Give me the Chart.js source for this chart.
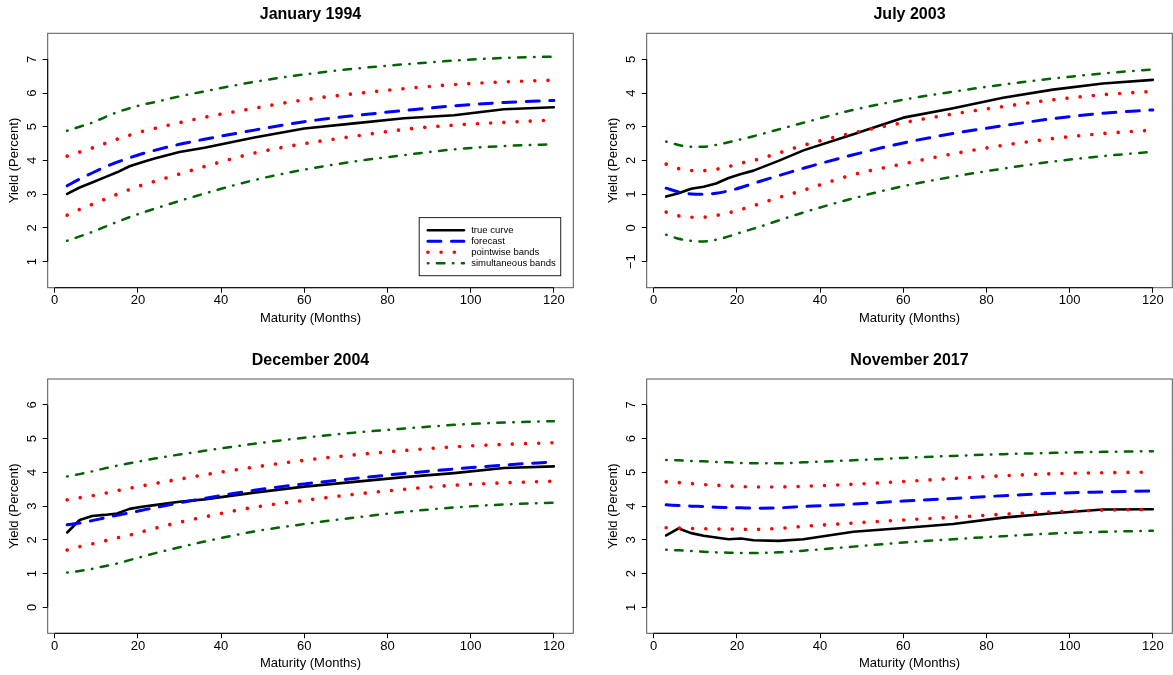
<!DOCTYPE html>
<html><head><meta charset="utf-8">
<script src="https://cdn.jsdelivr.net/npm/chart.js@4.4.1/dist/chart.umd.min.js"></script>
<style>
html,body{margin:0;padding:0;background:#fff;width:1173px;height:675px;overflow:hidden}
canvas{position:absolute}
</style></head><body>
<canvas id="c1" width="586" height="337" style="left:0;top:0"></canvas>
<canvas id="c2" width="587" height="337" style="left:586px;top:0"></canvas>
<canvas id="c3" width="586" height="338" style="left:0;top:337px"></canvas>
<canvas id="c4" width="587" height="338" style="left:586px;top:337px"></canvas>
<script>
// ---- data ----
const maturities = [3,6,9,12,15,18,21,24,30,36,48,60,72,84,96,108,120];
const xTickValues = [0,20,40,60,80,100,120];
const panelTitles = ['January 1994','July 2003','December 2004','November 2017'];
const seriesNames = ['true curve','forecast','pointwise bands','simultaneous bands'];
const xAxisTitle = 'Maturity (Months)';
const yAxisTitle = 'Yield (Percent)';

const jan1994True     = [3.01,3.2,3.35,3.5,3.65,3.83,3.95,4.06,4.25,4.38,4.68,4.95,5.1,5.25,5.34,5.52,5.58];
const jan1994Forecast = [3.25,3.45,3.63,3.8,3.95,4.08,4.2,4.3,4.48,4.63,4.9,5.15,5.33,5.48,5.62,5.72,5.78];
const jan1994PwUpper  = [4.13,4.25,4.37,4.5,4.63,4.75,4.86,4.95,5.12,5.28,5.55,5.8,5.98,6.13,6.25,6.33,6.38];
const jan1994PwLower  = [2.38,2.55,2.7,2.85,3.0,3.14,3.27,3.38,3.6,3.82,4.22,4.5,4.72,4.92,5.05,5.13,5.2];
const jan1994SimUpper = [4.88,5.0,5.12,5.28,5.43,5.55,5.65,5.73,5.9,6.05,6.33,6.55,6.72,6.85,6.96,7.04,7.08];
const jan1994SimLower = [1.62,1.75,1.88,2.03,2.18,2.32,2.45,2.57,2.8,3.02,3.42,3.73,3.97,4.16,4.33,4.43,4.48];
const jan1994YTicks   = [1,2,3,4,5,6,7];

const jul2003True     = [0.93,1.03,1.16,1.22,1.32,1.48,1.6,1.7,1.99,2.3,2.78,3.27,3.55,3.86,4.1,4.28,4.39];
const jul2003Forecast = [1.18,1.07,1.01,1.0,1.03,1.1,1.2,1.32,1.55,1.77,2.17,2.52,2.8,3.03,3.24,3.4,3.5];
const jul2003PwUpper  = [1.89,1.76,1.7,1.7,1.74,1.82,1.92,2.0,2.22,2.45,2.82,3.12,3.38,3.6,3.8,3.95,4.05];
const jul2003PwLower  = [0.47,0.36,0.32,0.32,0.37,0.45,0.55,0.66,0.9,1.12,1.58,1.9,2.2,2.45,2.65,2.8,2.9];
const jul2003SimUpper = [2.56,2.46,2.41,2.41,2.46,2.54,2.63,2.72,2.92,3.12,3.5,3.8,4.04,4.25,4.43,4.58,4.7];
const jul2003SimLower = [-0.2,-0.32,-0.38,-0.4,-0.35,-0.25,-0.13,-0.02,0.22,0.46,0.88,1.24,1.52,1.76,1.97,2.13,2.26];
const jul2003YTicks   = [-1,0,1,2,3,4,5];

const dec2004True     = [2.22,2.59,2.71,2.74,2.78,2.92,2.98,3.03,3.13,3.2,3.4,3.58,3.72,3.86,3.98,4.13,4.18];
const dec2004Forecast = [2.45,2.5,2.57,2.65,2.73,2.8,2.88,2.95,3.1,3.23,3.47,3.66,3.82,3.97,4.1,4.22,4.31];
const dec2004PwUpper  = [3.19,3.25,3.31,3.38,3.46,3.53,3.6,3.67,3.8,3.93,4.16,4.36,4.52,4.65,4.76,4.83,4.88];
const dec2004PwLower  = [1.7,1.8,1.88,1.97,2.06,2.14,2.24,2.34,2.52,2.68,2.97,3.17,3.35,3.5,3.62,3.69,3.74];
const dec2004SimUpper = [3.88,3.95,4.03,4.12,4.2,4.27,4.34,4.41,4.53,4.64,4.85,5.03,5.18,5.3,5.41,5.48,5.52];
const dec2004SimLower = [1.03,1.08,1.14,1.22,1.3,1.4,1.5,1.6,1.78,1.95,2.25,2.47,2.66,2.83,2.96,3.05,3.1];
const dec2004YTicks   = [0,1,2,3,4,5,6];

const nov2017True     = [3.13,3.34,3.2,3.12,3.07,3.02,3.04,2.99,2.97,3.02,3.24,3.35,3.47,3.66,3.79,3.9,3.91];
const nov2017Forecast = [4.04,4.02,4.0,3.99,3.97,3.96,3.95,3.94,3.95,3.99,4.06,4.15,4.23,4.31,4.38,4.42,4.45];
const nov2017PwUpper  = [4.72,4.7,4.67,4.64,4.62,4.6,4.58,4.57,4.57,4.59,4.65,4.73,4.82,4.9,4.96,4.99,5.01];
const nov2017PwLower  = [3.36,3.35,3.34,3.33,3.32,3.32,3.31,3.31,3.34,3.4,3.5,3.59,3.67,3.76,3.83,3.88,3.9];
const nov2017SimUpper = [5.37,5.36,5.34,5.33,5.31,5.3,5.28,5.27,5.27,5.3,5.36,5.43,5.49,5.54,5.58,5.61,5.63];
const nov2017SimLower = [2.71,2.69,2.67,2.65,2.63,2.62,2.61,2.61,2.63,2.68,2.8,2.92,3.02,3.11,3.19,3.24,3.27];
const nov2017YTicks   = [1,2,3,4,5,6,7];

// ---- styling / layout ----
const FONT = "'Liberation Sans', Arial, Helvetica, sans-serif";
const styles = {
  trueCurve: {borderColor:'#000000', borderWidth:2.6, borderDash:[], borderCapStyle:'round', tension:0},
  forecast:  {borderColor:'#0000FF', borderWidth:3, borderDash:[13,10.5], borderCapStyle:'round', cubicInterpolationMode:'monotone'},
  pointwise: {borderColor:'#FF0000', borderWidth:3.6, borderDash:[0.01,13.2], borderCapStyle:'round', cubicInterpolationMode:'monotone'},
  simult:    {borderColor:'#006400', borderWidth:2.5, borderDash:[0.5,8.5,7.5,8.5], borderCapStyle:'round', cubicInterpolationMode:'monotone'}
};

function pts(arr){ return maturities.map((m,i)=>({x:m,y:arr[i]})); }
function ds(label, arr, st, order){
  return Object.assign({label, data:pts(arr), pointRadius:0, fill:false, order, borderJoinStyle:'round'}, st);
}

const boxPlugin = {
  id:'rbox',
  afterDraw(chart, args, opts){
    const {ctx, chartArea:a, scales:{x,y}} = chart;
    ctx.save();
    // plot box
    ctx.strokeStyle = '#555'; ctx.lineWidth = 1;
    ctx.strokeRect(a.left, a.top, a.right-a.left, a.bottom-a.top);
    // axis lines from first to last tick
    ctx.strokeStyle = '#000';
    ctx.beginPath();
    const xt = x.ticks, yt = y.ticks;
    ctx.moveTo(x.getPixelForValue(xt[0].value), a.bottom);
    ctx.lineTo(x.getPixelForValue(xt[xt.length-1].value), a.bottom);
    ctx.moveTo(a.left, y.getPixelForValue(yt[0].value));
    ctx.lineTo(a.left, y.getPixelForValue(yt[yt.length-1].value));
    ctx.stroke();
    // rotated y tick labels (R style, reading upwards)
    ctx.fillStyle = '#000';
    ctx.font = '13px ' + FONT;
    ctx.textAlign = 'center'; ctx.textBaseline = 'middle';
    yt.forEach(t=>{
      const py = y.getPixelForValue(t.value);
      ctx.save();
      ctx.translate(a.left - 15.4, py);
      ctx.rotate(-Math.PI/2);
      ctx.fillText(t.value < 0 ? '\u2212' + Math.abs(t.value) : String(t.value), 0, 0);
      ctx.restore();
    });
    // legend
    if (opts && opts.legend) {
      const fs = 9.5;
      ctx.font = fs + 'px ' + FONT;
      const tw = Math.max(...seriesNames.map(s=>ctx.measureText(s).width));
      const w = 8.7 + 36 + 7.3 + tw + 5;
      const h = 58.1;
      const right = a.right - 12.6, bottom = a.bottom - 12;
      const left = right - w, top = bottom - h;
      ctx.fillStyle = '#fff';
      ctx.fillRect(left, top, w, h);
      ctx.strokeStyle = '#222'; ctx.lineWidth = 1;
      ctx.strokeRect(left, top, w, h);
      const st = [styles.trueCurve, styles.forecast, styles.pointwise, styles.simult];
      seriesNames.forEach((name,i)=>{
        const cy = top + 12.7 + i*11;
        const s = st[i];
        ctx.save();
        ctx.strokeStyle = s.borderColor;
        ctx.lineWidth = s.borderWidth;
        ctx.lineCap = s.borderCapStyle || 'butt';
        ctx.setLineDash(s.borderDash);
        ctx.beginPath();
        ctx.moveTo(left + 8.7, cy); ctx.lineTo(left + 8.7 + 36, cy);
        ctx.stroke();
        ctx.restore();
        ctx.fillStyle = '#000';
        ctx.textAlign = 'left'; ctx.textBaseline = 'middle';
        ctx.fillText(name, left + 8.7 + 36 + 7.3, cy);
      });
    }
    ctx.restore();
  }
};

function makeChart(id, title, series, yTicks, yMin, yMax, area, titleCenter, xTitleCenter, yTitleCenter, legend){
  const cv = document.getElementById(id);
  const W = cv.width, H = cv.height;
  const titleLH = 16*1.2;
  const tPadTop = titleCenter - titleLH/2;
  const tPadBottom = area.top - titleLH - tPadTop;
  const axLH = 13*1.2;
  return new Chart(cv, {
    type:'line',
    data:{datasets:[
      ds(seriesNames[0], series[0], styles.trueCurve, 6),
      ds(seriesNames[1], series[1], styles.forecast, 5),
      ds(seriesNames[2]+' upper', series[2], styles.pointwise, 4),
      ds(seriesNames[2]+' lower', series[3], styles.pointwise, 3),
      ds(seriesNames[3]+' upper', series[4], styles.simult, 2),
      ds(seriesNames[3]+' lower', series[5], styles.simult, 1)
    ]},
    plugins:[boxPlugin],
    options:{
      responsive:false, animation:false, devicePixelRatio:1, events:[],
      layout:{padding:{top:0,left:0,right:W-area.right,bottom:0}},
      plugins:{
        legend:{display:false}, tooltip:{enabled:false},
        title:{display:true, text:title, fullSize:false, color:'#000',
          font:{family:FONT, size:16, weight:'bold'}, padding:{top:tPadTop, bottom:tPadBottom}},
        rbox:{legend}
      },
      scales:{
        x:{type:'linear', min:-1.68, max:124.68,
          afterBuildTicks:s=>{ s.ticks = xTickValues.map(v=>({value:v})); },
          afterFit:s=>{ s.height = H - area.bottom; },
          grid:{display:true, drawOnChartArea:false, drawTicks:true, tickLength:5, color:'#000', lineWidth:1},
          border:{display:false},
          ticks:{color:'#000', font:{family:FONT, size:13}, padding:0, maxRotation:0, autoSkip:false},
          title:{display:true, text:xAxisTitle, color:'#000', font:{family:FONT, size:13},
            padding:{top:0, bottom:H - xTitleCenter - axLH/2}}
        },
        y:{type:'linear', min:yMin, max:yMax,
          afterBuildTicks:s=>{ s.ticks = yTicks.map(v=>({value:v})); },
          afterFit:s=>{ s.width = area.left; },
          grid:{display:true, drawOnChartArea:false, drawTicks:true, tickLength:5, color:'#000', lineWidth:1},
          border:{display:false},
          ticks:{display:false},
          title:{display:true, text:yAxisTitle, color:'#000', font:{family:FONT, size:13},
            padding:{top:yTitleCenter - axLH/2, bottom:0}}
        }
      }
    }
  });
}

makeChart('c1', panelTitles[0],
  [jan1994True, jan1994Forecast, jan1994PwUpper, jan1994PwLower, jan1994SimUpper, jan1994SimLower],
  jan1994YTicks, 0.23, 7.77, {left:47.7, right:573.3, top:33.3, bottom:287.7}, 14.5, 318, 14, true);
makeChart('c2', panelTitles[1],
  [jul2003True, jul2003Forecast, jul2003PwUpper, jul2003PwLower, jul2003SimUpper, jul2003SimLower],
  jul2003YTicks, -1.77, 5.77, {left:60.7, right:586.3, top:33.3, bottom:287.7}, 14.5, 318, 27, false);
makeChart('c3', panelTitles[2],
  [dec2004True, dec2004Forecast, dec2004PwUpper, dec2004PwLower, dec2004SimUpper, dec2004SimLower],
  dec2004YTicks, -0.77, 6.77, {left:47.7, right:573.3, top:42, bottom:296.3}, 23.5, 326, 14, false);
makeChart('c4', panelTitles[3],
  [nov2017True, nov2017Forecast, nov2017PwUpper, nov2017PwLower, nov2017SimUpper, nov2017SimLower],
  nov2017YTicks, 0.23, 7.77, {left:60.7, right:586.3, top:42, bottom:296.3}, 23.5, 326, 27, false);
</script>
</body></html>
